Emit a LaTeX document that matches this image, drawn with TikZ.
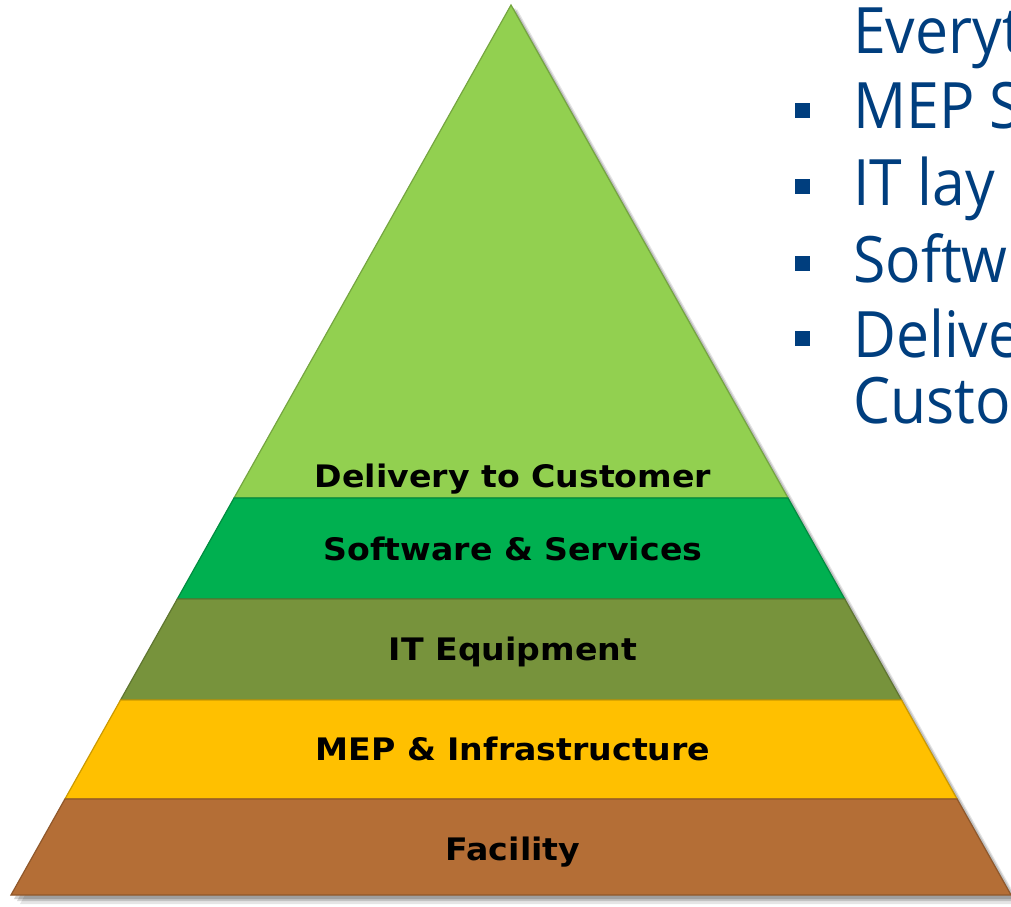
\documentclass[tikz,border=0pt]{standalone}
\usepackage{fontspec}
\setmainfont{DejaVu Sans}
\newfontfamily\rightfont[FakeStretch=0.92]{Open Sans}
\newfontfamily\lblfont[FakeStretch=1.07]{DejaVu Sans}
\usetikzlibrary{calc}
\definecolor{cDel}{HTML}{92D050}
\definecolor{cSoft}{HTML}{00B050}
\definecolor{cIT}{HTML}{77933C}
\definecolor{cMEP}{HTML}{FFC000}
\definecolor{cFac}{HTML}{B46E36}
\definecolor{cBlue}{HTML}{003E7E}
\tikzset{
  layer/.style={line width=1.2pt, line join=miter},
  lbl/.style={font=\lblfont\fontsize{31}{31}\selectfont\bfseries, text=black, anchor=base, inner sep=0pt},
  rtext/.style={font=\rightfont\fontsize{64}{64}\selectfont, text=cBlue, anchor=base west, inner sep=0pt},
  bullet/.style={fill=cBlue, minimum size=15pt, inner sep=0pt, draw=none}
}
\begin{document}
\begin{tikzpicture}[x=1pt,y=-1pt]
\useasboundingbox (0,0) rectangle (1011,906);
\clip (0,0) rectangle (1011,906);
\fill[white] (0,0) rectangle (1011,906);
\coordinate (apex) at (511,5);
\coordinate (bl) at (11,895);
\coordinate (br) at (1011,895);
% shadow
\fill[black, opacity=0.10] ($(apex)+(6,4)$) -- ($(br)+(9,9)$) -- ($(bl)+(9,9)$) -- cycle;
\fill[black, opacity=0.15] ($(apex)+(4,3)$) -- ($(br)+(6,6)$) -- ($(bl)+(6,6)$) -- cycle;
\fill[black, opacity=0.18] ($(apex)+(2,2)$) -- ($(br)+(3,4)$) -- ($(bl)+(3,4)$) -- cycle;
% layers
\foreach \ta/\tb/\c in {0/0.5539/cDel, 0.5539/0.6674/cSoft, 0.6674/0.7809/cIT, 0.7809/0.8921/cMEP, 0.8921/1/cFac}{
  \filldraw[layer, fill=\c, draw=\c!80!black]
    ($(apex)!\ta!(bl)$) -- ($(apex)!\ta!(br)$) -- ($(apex)!\tb!(br)$) -- ($(apex)!\tb!(bl)$) -- cycle;
}
\node[lbl] (ldel) at (513,487) {Delivery to Customer};
\node[lbl] (lsoft) at (513,560) {Software \& Services};
\node[lbl] (lit) at (513,660) {IT Equipment};
\node[lbl] (lmep) at (513,760) {MEP \& Infrastructure};
\node[lbl] (lfac) at (513,860) {Facility};
% right text
\node[rtext] (r0) at (853,53) {Everyt};
\node[rtext] (r1) at (853,128) {MEP S};
\node[rtext] (r2) at (853,205) {IT lay};
\node[rtext] (r3) at (853,282) {Softw};
\node[rtext] (r4) at (853,357) {Delive};
\node[rtext] (r5) at (853,423) {Custo};
\node[bullet] (b1) at (802.5,110) {};
\node[bullet] (b2) at (802.5,186.5) {};
\node[bullet] (b3) at (802.5,263.5) {};
\node[bullet] (b4) at (802.5,338.5) {};
\end{tikzpicture}
\end{document}
